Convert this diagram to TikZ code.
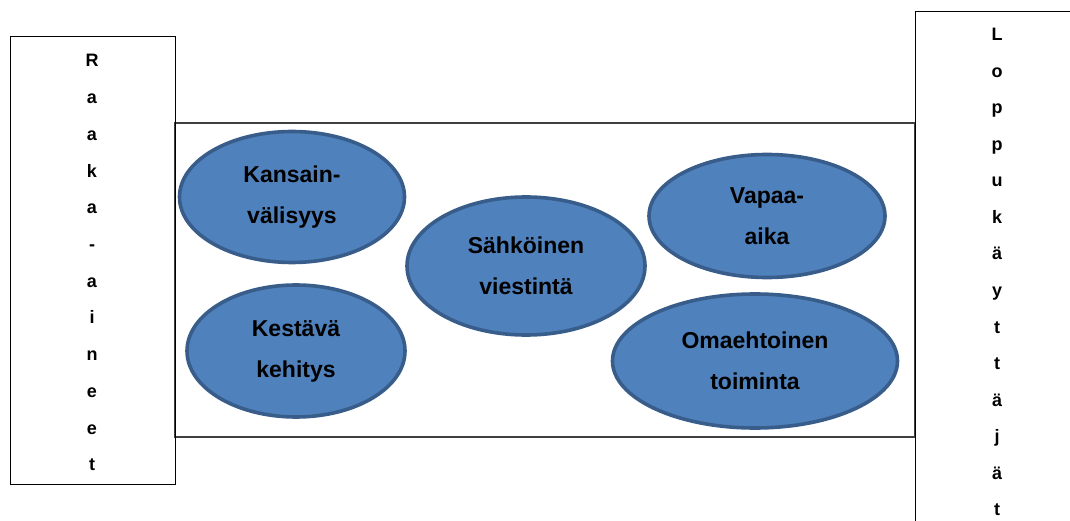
\documentclass[tikz,border=0pt]{standalone}
\usepackage{fontspec}
\setmainfont{Liberation Sans}
\usetikzlibrary{shapes.geometric}
\definecolor{bubblefill}{HTML}{4F81BD}
\definecolor{bubbleline}{HTML}{385D8A}
\definecolor{framegray}{HTML}{404040}
\tikzset{
  sidebox/.style={draw=black, line width=1pt},
  midbox/.style={draw=framegray, line width=1.2pt},
  bubble/.style={ellipse, draw=bubbleline, fill=bubblefill, line width=3.6pt, inner sep=0pt,
    align=center, font=\fontsize{23}{41}\selectfont\bfseries, text=black},
  letter/.style={anchor=base, font=\fontsize{18}{20}\selectfont\bfseries, inner sep=0pt}
}
\begin{document}
\begin{tikzpicture}[x=1pt,y=-1pt]
\useasboundingbox (0,0) rectangle (1070,521);
\clip (0,0) rectangle (1070,521);
% frames
\draw[midbox] (175,123) rectangle (915,437);
\draw[sidebox] (10,37) rectangle (175,484);
\draw[sidebox] (915,12) rectangle (1080,560);
% left letters
\foreach \ch [count=\i] in {R,a,a,k,a,-,a,i,n,e,e,t}
  \node[letter] (l\i) at (92,{67+36.7*(\i-1)}) {\ch};
% right letters
\foreach \ch [count=\i] in {L,o,p,p,u,k,ä,y,t,t,ä,j,ä,t}
  \node[letter] (r\i) at (997,{41+36.5*(\i-1)}) {\ch};
% bubbles
\node[bubble, minimum width=225pt, minimum height=131pt] (kv) at (292,197) {Kansain-\\välisyys};
\node[bubble, minimum width=218pt, minimum height=132pt] (kk) at (296,351) {Kestävä\\kehitys};
\node[bubble, minimum width=238pt, minimum height=138pt] (sv) at (526,266) {Sähköinen\\viestintä};
\node[bubble, minimum width=236pt, minimum height=123pt] (va) at (767,216) {Vapaa-\\aika};
\node[bubble, minimum width=285pt, minimum height=134pt] (ot) at (755,361) {Omaehtoinen\\toiminta};
\end{tikzpicture}
\end{document}
